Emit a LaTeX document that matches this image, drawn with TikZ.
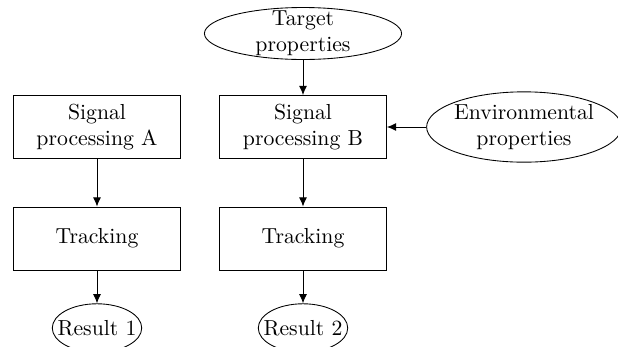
\documentclass[tikz,border=0pt]{standalone}
\usepackage{tikz}
\usetikzlibrary{shapes.geometric,arrows.meta}
\tikzset{>={Latex[length=4.2pt,width=3.6pt]}}
\tikzset{block/.style={draw,rectangle,align=center,inner sep=0pt,minimum width=76.8pt,minimum height=29pt}}
\tikzset{prop/.style={draw,ellipse,align=center}}
\tikzset{result/.style={draw,ellipse,inner xsep=-3.6pt,inner ysep=4.3pt}}

\begin{document}
\begin{tikzpicture}[x=0.46pt,y=-0.46pt]
	\useasboundingbox (0,0) rectangle (618,346);
	\clip (0,0) rectangle (618,346);

	\node [prop,inner xsep=10.2pt,inner ysep=-1.9pt] (target) at (303,33.5) {Target\\properties};
	\node [prop,inner xsep=-0.5pt,inner ysep=1pt] (env) at (524,127) {Environmental\\properties};

	\node [block] (procA) at (97,127) {Signal\\processing A};
	\node [block] (procB) at (303,127) {Signal\\processing B};
	\node [block] (trackA) at (97,238.5) {Tracking};
	\node [block] (trackB) at (303,238.5) {Tracking};

	\node [result] (resA) at (97,328) {Result 1};
	\node [result] (resB) at (303,328) {Result 2};

	\draw [->] (target) -- (procB);
	\draw [->] (env) -- (procB);
	\draw [->] (procA) -- (trackA);
	\draw [->] (procB) -- (trackB);
	\draw [->] (trackA) -- (resA);
	\draw [->] (trackB) -- (resB);
\end{tikzpicture}
\end{document}
